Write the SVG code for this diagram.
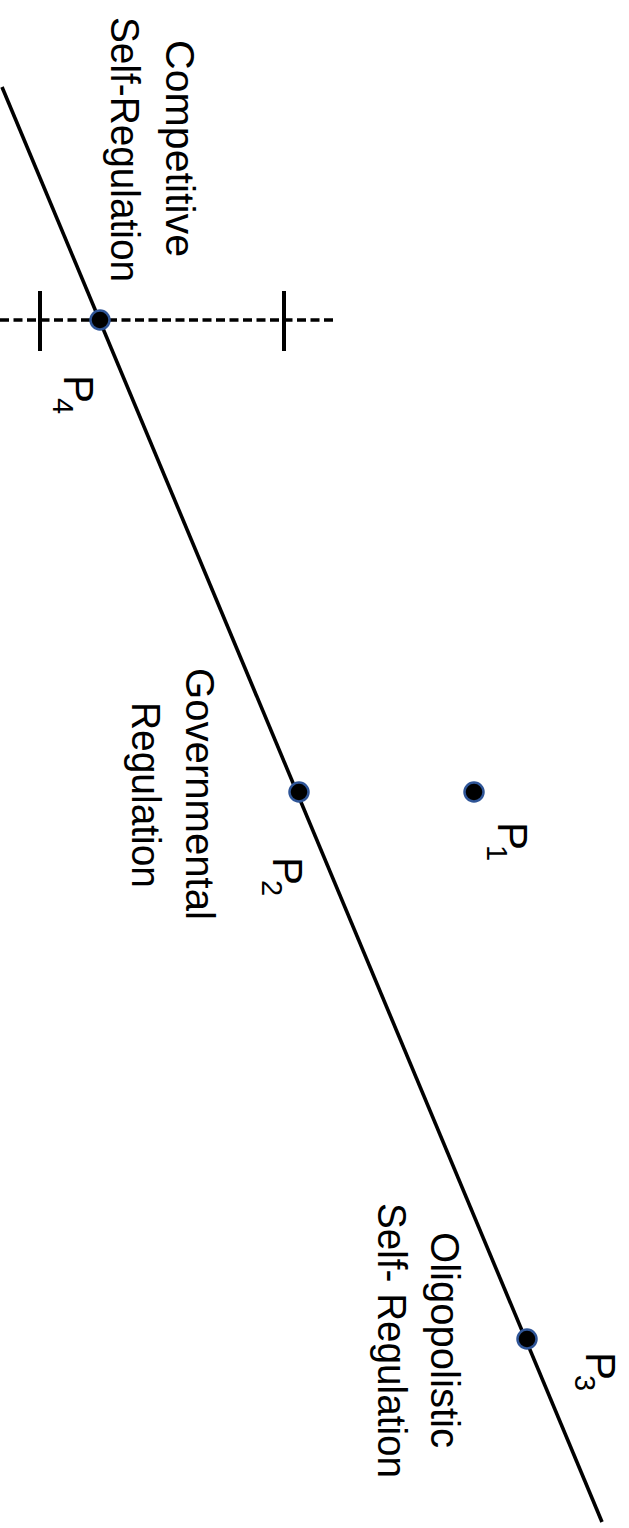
<svg xmlns="http://www.w3.org/2000/svg" width="629" height="1528" viewBox="0 0 629 1528">
<style>
.lbl{font-family:"Liberation Sans",Arial,sans-serif;font-size:40px;fill:#000}
.p{font-family:"Liberation Sans",Arial,sans-serif;font-size:42px;fill:#000}
.sub{font-size:29px}
.line{stroke:#000;stroke-width:3.6;fill:none}
.tick{stroke:#000;stroke-width:4;fill:none}
.dash{stroke:#000;stroke-width:3.6;fill:none;stroke-dasharray:9 4.5}
.dot{fill:#000;stroke:#2F5597;stroke-width:2.5}
</style>
<rect width="629" height="1528" fill="#fff"/>
<g id="connectors">
<line class="line" x1="2" y1="87" x2="602" y2="1522"/>
<line class="dash" x1="0" y1="320" x2="337" y2="320"/>
<line class="tick" x1="40" y1="291" x2="40" y2="351"/>
<line class="tick" x1="284" y1="291" x2="284" y2="351"/>
</g>
<g id="P4">
<circle class="dot" cx="100" cy="320" r="9.5"/>
<text class="p" transform="translate(64,375) rotate(90)">P<tspan class="sub" x="23" y="11">4</tspan></text>
</g>
<g id="P2">
<circle class="dot" cx="299" cy="792" r="9.5"/>
<text class="p" transform="translate(273,857) rotate(90)">P<tspan class="sub" x="23" y="11">2</tspan></text>
</g>
<g id="P1">
<circle class="dot" cx="474" cy="792" r="9.5"/>
<text class="p" transform="translate(498,822) rotate(90)">P<tspan class="sub" x="23" y="11">1</tspan></text>
</g>
<g id="P3">
<circle class="dot" cx="527" cy="1339" r="9.5"/>
<text class="p" transform="translate(586,1352) rotate(90)">P<tspan class="sub" x="23" y="11">3</tspan></text>
</g>
<g id="competitive">
<text class="lbl" transform="translate(166,40) rotate(90)" textLength="217" lengthAdjust="spacingAndGlyphs">Competitive</text>
<text class="lbl" transform="translate(111,17) rotate(90)" textLength="265" lengthAdjust="spacingAndGlyphs">Self-Regulation</text>
</g>
<g id="governmental">
<text class="lbl" transform="translate(186,668) rotate(90)" textLength="252" lengthAdjust="spacingAndGlyphs">Governmental</text>
<text class="lbl" transform="translate(132,702) rotate(90)" textLength="186" lengthAdjust="spacingAndGlyphs">Regulation</text>
</g>
<g id="oligopolistic">
<text class="lbl" transform="translate(431,1232) rotate(90)" textLength="216" lengthAdjust="spacingAndGlyphs">Oligopolistic</text>
<text class="lbl" transform="translate(378,1203) rotate(90)" textLength="275" lengthAdjust="spacingAndGlyphs">Self- Regulation</text>
</g>
</svg>
